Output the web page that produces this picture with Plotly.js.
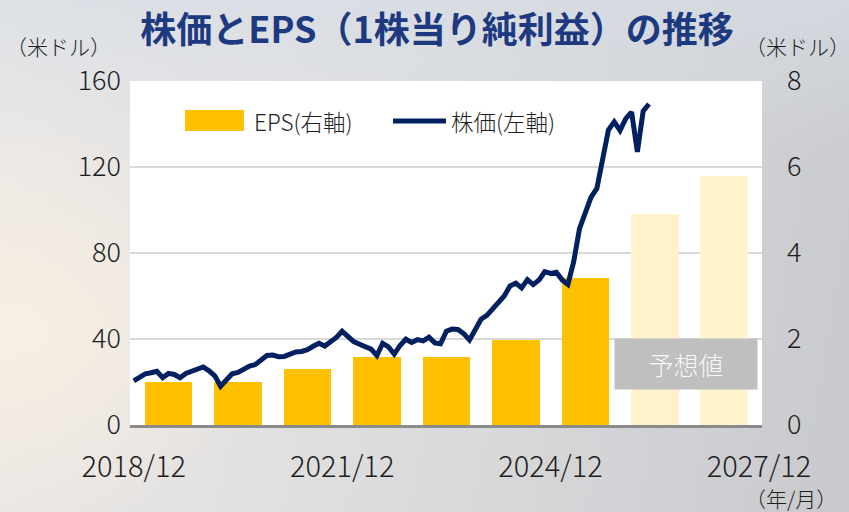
<!DOCTYPE html>
<html>
<head>
<meta charset="utf-8">
<script src="https://cdn.plot.ly/plotly-3.0.1.min.js"></script>
<style>
  html, body { margin:0; padding:0; }
  body {
    width:849px; height:512px; overflow:hidden;
    background:
      radial-gradient(ellipse 260px 200px at 20px 330px, rgba(250,240,226,0.9), rgba(250,240,226,0) 100%),
      linear-gradient(180deg, rgba(214,221,230,0.7) 0%, rgba(214,221,230,0) 30%),
      linear-gradient(100deg, #ece9e6 0%, #e2e1e1 35%, #d6d7d9 65%, #c8c9cc 100%);
  }
  #chart { width:849px; height:512px; }
</style>
</head>
<body>
<div id="chart"></div>
<script>
// ---- data ----
// tick labels (year/month) on the x axis
const tickLabels = ['2018/12', '2021/12', '2024/12', '2027/12'];
// fiscal years of EPS bars (each bar spans the year ending at that December)
const epsYears = [2019, 2020, 2021, 2022, 2023, 2024, 2025, 2026, 2027];
// EPS (US$, right axis)
const eps = [1.00, 1.00, 1.31, 1.57, 1.57, 1.97, 3.41, 4.91, 5.78];
// forecast flags
const epsForecast = [false, false, false, false, false, false, false, true, true];
// monthly share price (US$, left axis), starting 2018/12
const priceStart = 2018 + 11/12;
const price = [
  20.5, 22.4, 23.8, 24.3, 25.0, 22.0, 24.0, 23.5, 22.0, 24.0,
  25.0, 26.0, 27.0, 25.2, 22.9, 18.0, 21.2, 23.8, 24.5, 26.2,
  27.4, 28.1, 30.0, 32.3, 32.5, 31.8, 31.9, 33.2, 34.0, 34.2,
  35.0, 36.6, 38.0, 36.7, 38.8, 40.7, 43.6, 41.0, 38.8, 37.6,
  36.6, 35.3, 32.3, 38.0, 36.3, 33.0, 37.0, 39.9, 38.4, 39.7,
  39.1, 40.8, 38.2, 37.8, 43.6, 44.6, 44.4, 42.5, 39.5, 44.7,
  49.2, 51.0, 54.0, 57.0, 60.0, 64.7, 66.0, 63.8, 67.6, 65.3,
  67.4, 71.3, 70.5, 71.0, 67.5, 65.4, 76.0, 91.3, 99.3, 106.0,
  110.0, 124.5, 137.2, 141.0, 137.0, 142.5, 145.5, 127.0, 146.0, 149.3
];

// ---- build traces ----
const origin = 2018 + 11/12;           // 2018/12 on the x axis
const tickVals = tickLabels.map(s => {
  const [y, m] = s.split('/').map(Number);
  return y + (m - 1) / 12 - origin;
});
const epsX = epsYears.map(y => (y - 1) + 11/12 - origin + 0.5);
const priceX = price.map((_, i) => priceStart - origin + i / 12);

const navy = '#002060';
const gold = '#FFC000';
const goldLight = '#FFF2CC';

const bars = {
  type: 'bar', x: epsX, y: eps, yaxis: 'y',
  width: 0.684,
  marker: { color: epsForecast.map(f => f ? goldLight : gold), line: { width: 0 } },
  name: 'EPS(右軸)', showlegend: false, hoverinfo: 'skip'
};
const line = {
  type: 'scatter', mode: 'lines', x: priceX, y: price, yaxis: 'y2',
  line: { color: navy, width: 5, shape: 'linear' },
  name: '株価(左軸)', showlegend: false, hoverinfo: 'skip'
};

const FAM = 'Noto Sans CJK JP, Noto Sans, sans-serif';
const tickFont = { family: FAM, size: 27, color: '#1e1e1e', weight: 300 };
const W = 849, H = 512;
const L = 130, R = 849 - 762, T = 81, B = 512 - 425.5;
const pw = W - L - R, ph = H - T - B;
const px = x => (x - L) / pw;
const py = y => (H - B - y) / ph;

const layout = {
  width: W, height: H,
  margin: { l: L, r: R, t: T, b: B, pad: 0 },
  paper_bgcolor: 'rgba(0,0,0,0)',
  plot_bgcolor: '#ffffff',
  showlegend: false,
  bargap: 0,
  title: {
    text: '<b>株価とEPS（1株当り純利益）の推移</b>',
    font: { family: FAM, size: 36, color: '#1d3a80' },
    xref: 'container', yref: 'container',
    x: 437 / W, xanchor: 'center', y: 1 - 30 / H, yanchor: 'middle'
  },
  xaxis: {
    range: [-0.054, 9.044],
    tickvals: tickVals, ticktext: tickLabels,
    showgrid: false, zeroline: false,
    showline: true, linecolor: '#8a8a8a', linewidth: 2.5,
    ticks: '', tickfont: Object.assign({}, tickFont, { size: 29 }),
    ticklabelstandoff: 15, fixedrange: true
  },
  yaxis: {
    range: [0, 8], side: 'right', dtick: 2,
    showgrid: true, gridcolor: '#d9d9d9', gridwidth: 2,
    zeroline: false, showline: false, ticks: '',
    tickfont: tickFont, ticklabelstandoff: 24, fixedrange: true
  },
  yaxis2: {
    range: [0, 160], side: 'left', overlaying: 'y', dtick: 40,
    showgrid: false, zeroline: false, showline: false, ticks: '',
    tickfont: tickFont, ticklabelstandoff: 8, fixedrange: true
  },
  shapes: [
    { type: 'rect', xref: 'paper', yref: 'paper',
      x0: px(185), x1: px(244), y0: py(131), y1: py(110),
      fillcolor: gold, line: { width: 0 } },
    { type: 'line', xref: 'paper', yref: 'paper',
      x0: px(393), x1: px(446), y0: py(121), y1: py(121),
      line: { color: navy, width: 5 } }
  ],
  annotations: [
    { text: 'EPS(右軸)', xref: 'paper', yref: 'paper', x: px(252), y: py(121),
      xanchor: 'left', yanchor: 'middle', showarrow: false,
      font: { family: FAM, size: 22.5, color: '#1e1e1e', weight: 300 } },
    { text: '株価(左軸)', xref: 'paper', yref: 'paper', x: px(449), y: py(121),
      xanchor: 'left', yanchor: 'middle', showarrow: false,
      font: { family: FAM, size: 22.5, color: '#1e1e1e', weight: 300 } },
    { text: '予想値', xref: 'paper', yref: 'paper', x: px(686), y: py(364),
      xanchor: 'center', yanchor: 'middle', showarrow: false,
      width: 140, height: 48, bgcolor: '#bfbfbf',
      font: { family: FAM, size: 25, color: '#f7f7f7', weight: 300 } },
    { text: '（米ドル）', xref: 'paper', yref: 'paper', x: px(58), y: py(46),
      xanchor: 'center', yanchor: 'middle', showarrow: false,
      font: { family: FAM, size: 21, color: '#1e1e1e', weight: 300 } },
    { text: '（米ドル）', xref: 'paper', yref: 'paper', x: px(797), y: py(46),
      xanchor: 'center', yanchor: 'middle', showarrow: false,
      font: { family: FAM, size: 21, color: '#1e1e1e', weight: 300 } },
    { text: '（年/月）', xref: 'paper', yref: 'paper', x: px(791), y: py(499),
      xanchor: 'center', yanchor: 'middle', showarrow: false,
      font: { family: FAM, size: 21, color: '#1e1e1e', weight: 300 } }
  ]
};

Plotly.newPlot('chart', [bars, line], layout, { staticPlot: true, displayModeBar: false });
</script>
</body>
</html>
